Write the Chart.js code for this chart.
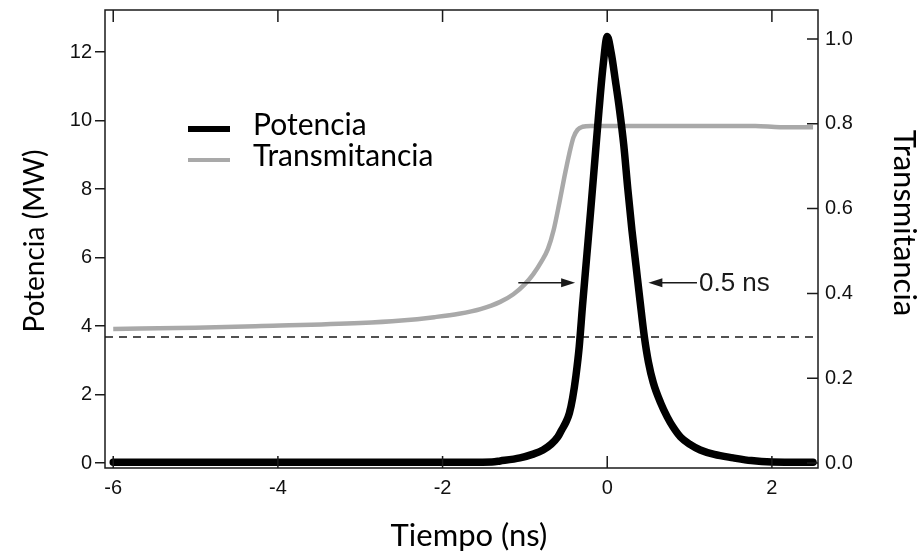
<!DOCTYPE html>
<html>
<head>
<meta charset="utf-8">
<script src="https://cdn.jsdelivr.net/npm/chart.js@4.4.1/dist/chart.umd.min.js"></script>
<style>
  html, body { margin: 0; padding: 0; background: #fff; }
  canvas { display: block; }
</style>
</head>
<body>
<canvas id="chart" width="919" height="554"></canvas>
<script>
// Pulse power (MW) against time (ns)
const pulseTime  = [-6.0, -4.0, -2.0, -1.4, -1.3, -1.06, -0.9, -0.78, -0.68, -0.6, -0.55, -0.50, -0.46, -0.42, -0.38, -0.34, -0.30, -0.25, -0.20, -0.15, -0.10, -0.05, 0, 0.05, 0.10, 0.15, 0.20, 0.25, 0.30, 0.35, 0.40, 0.45, 0.50, 0.56, 0.65, 0.73, 0.80, 0.89, 1.0, 1.13, 1.3, 1.53, 1.75, 2.0, 2.5];
const pulsePower = [0.02, 0.02, 0.02, 0.03, 0.06, 0.15, 0.26, 0.38, 0.55, 0.76, 0.98, 1.2, 1.45, 1.9, 2.55, 3.4, 4.6, 6.0, 7.4, 8.85, 10.3, 11.6, 12.45, 11.95, 11.15, 10.3, 9.3, 8.0, 6.8, 5.75, 4.7, 3.7, 2.95, 2.34, 1.75, 1.34, 1.05, 0.76, 0.55, 0.38, 0.25, 0.15, 0.07, 0.03, 0.02];

// Transmittance against time (ns)
const transTime  = [-6.0, -5.0, -4.2, -3.0, -2.5, -2.1, -1.8, -1.54, -1.3, -1.14, -1.0, -0.9, -0.8, -0.72, -0.65, -0.58, -0.52, -0.46, -0.41, -0.36, -0.30, -0.2, 0.5, 1.8, 2.1, 2.5];
const transValue = [0.316, 0.319, 0.323, 0.330, 0.336, 0.344, 0.352, 0.363, 0.380, 0.398, 0.422, 0.445, 0.475, 0.505, 0.55, 0.615, 0.675, 0.73, 0.768, 0.786, 0.793, 0.795, 0.795, 0.795, 0.792, 0.792];

// dashed reference level (MW)
const thresholdPower = 3.68;

const timeTicks  = [-6, -4, -2, 0, 2];
const powerTicks = [0, 2, 4, 6, 8, 10, 12];
const transTicks = [0, 0.2, 0.4, 0.6, 0.8, 1.0];

const timeRange  = [-6.1, 2.56];
const powerRange = [-0.146, 13.226];
const transRange = [-0.0118, 1.0684];

// FWHM arrows, in data units (time from -> to, at power level)
const fwhmLevel = 5.26;
const fwhmLeft  = [-1.08, -0.39];
const fwhmRight = [1.09, 0.50];
const fwhmLabel = '0.5 ns';

const INK = '#1a1a1a';
const GREY = '#a9a9a9';
const TICK_FONT = { family: '"Liberation Sans", Arial, sans-serif', size: 20 };
const TEXT_FONT = 'Lato, "Open Sans", sans-serif';

const toPoints = (xs, ys) => xs.map((v, i) => ({ x: v, y: ys[i] }));

// keep the plot box where the figure has it
const noPad = s => { s.paddingTop = 0; s.paddingBottom = 0; s.paddingLeft = 0; s.paddingRight = 0; };

const decorations = {
    id: 'decorations',
    afterDatasetsDraw(chart) {
        const { ctx, chartArea: a, scales: { x, y, y2 } } = chart;
        ctx.save();

        // frame
        ctx.strokeStyle = INK;
        ctx.lineWidth = 1.5;
        ctx.strokeRect(a.left, a.top, a.right - a.left, a.bottom - a.top);

        // ticks pointing inward (top, bottom and right)
        ctx.beginPath();
        timeTicks.forEach(v => {
            const px = x.getPixelForValue(v);
            ctx.moveTo(px, a.bottom); ctx.lineTo(px, a.bottom - 12);
            ctx.moveTo(px, a.top); ctx.lineTo(px, a.top + 12);
        });
        transTicks.forEach(v => {
            const py = y2.getPixelForValue(v);
            ctx.moveTo(a.right, py); ctx.lineTo(a.right - 11, py);
        });
        ctx.stroke();

        // FWHM arrows
        const arrow = (from, to) => {
            const x0 = x.getPixelForValue(from), x1 = x.getPixelForValue(to);
            const yy = y.getPixelForValue(fwhmLevel);
            const dir = x1 > x0 ? 1 : -1;
            ctx.lineWidth = 1.5;
            ctx.beginPath();
            ctx.moveTo(x0, yy); ctx.lineTo(x1 - dir * 10, yy);
            ctx.stroke();
            ctx.beginPath();
            ctx.moveTo(x1, yy);
            ctx.lineTo(x1 - dir * 14, yy - 4.5);
            ctx.lineTo(x1 - dir * 14, yy + 4.5);
            ctx.closePath();
            ctx.fillStyle = INK;
            ctx.fill();
        };
        arrow(fwhmLeft[0], fwhmLeft[1]);
        arrow(fwhmRight[0], fwhmRight[1]);
        ctx.fillStyle = INK;
        ctx.font = '26px "Liberation Sans", Arial, sans-serif';
        ctx.textAlign = 'left';
        ctx.textBaseline = 'middle';
        ctx.fillText(fwhmLabel, x.getPixelForValue(fwhmRight[0]) + 2, y.getPixelForValue(fwhmLevel) + 1);

        // legend
        const rows = [
            { ds: chart.data.datasets[0], y: 129, w: 6 },
            { ds: chart.data.datasets[1], y: 160, w: 4 }
        ];
        ctx.font = `30px ${TEXT_FONT}`;
        rows.forEach(r => {
            ctx.strokeStyle = r.ds.borderColor;
            ctx.lineWidth = r.w;
            ctx.beginPath();
            ctx.moveTo(188, r.y); ctx.lineTo(230, r.y);
            ctx.stroke();
            ctx.fillStyle = '#000';
            ctx.fillText(r.ds.label, 253, r.y - 4);
        });

        // axis titles
        ctx.fillStyle = '#000';
        ctx.textAlign = 'center';
        ctx.font = `31px ${TEXT_FONT}`;
        ctx.fillText('Tiempo (ns)', 469, 536);
        ctx.save();
        ctx.translate(904, 223);
        ctx.rotate(Math.PI / 2);
        ctx.fillText('Transmitancia', 0, 0);
        ctx.restore();
        ctx.font = `28px ${TEXT_FONT}`;
        ctx.save();
        ctx.translate(35, 241);
        ctx.rotate(-Math.PI / 2);
        ctx.fillText('Potencia (MW)', 0, 0);
        ctx.restore();

        ctx.restore();
    }
};

new Chart(document.getElementById('chart'), {
    type: 'line',
    data: {
        datasets: [
            {
                label: 'Potencia',
                data: toPoints(pulseTime, pulsePower),
                yAxisID: 'y',
                borderColor: '#000',
                borderWidth: 7.5,
                cubicInterpolationMode: 'monotone',
                borderJoinStyle: 'round',
                borderCapStyle: 'round',
                pointRadius: 0
            },
            {
                label: 'Transmitancia',
                data: toPoints(transTime, transValue),
                yAxisID: 'y2',
                borderColor: GREY,
                borderWidth: 4.5,
                cubicInterpolationMode: 'monotone',
                pointRadius: 0
            },
            {
                label: 'umbral',
                data: toPoints(timeRange, [thresholdPower, thresholdPower]),
                yAxisID: 'y',
                borderColor: INK,
                borderWidth: 1.5,
                borderDash: [8, 6],
                pointRadius: 0
            }
        ]
    },
    options: {
        responsive: false,
        animation: false,
        layout: { padding: { top: 10, left: 0, right: 0, bottom: 0 } },
        plugins: { legend: { display: false }, tooltip: { enabled: false } },
        scales: {
            x: {
                type: 'linear',
                position: 'bottom',
                min: timeRange[0],
                max: timeRange[1],
                afterBuildTicks: s => { s.ticks = timeTicks.map(v => ({ value: v })); },
                afterFit: s => { s.height = 86; noPad(s); },
                grid: { display: false, drawTicks: false },
                border: { display: false },
                ticks: { padding: 8, color: '#111', font: TICK_FONT, maxRotation: 0 }
            },
            y: {
                type: 'linear',
                position: 'left',
                min: powerRange[0],
                max: powerRange[1],
                afterBuildTicks: s => { s.ticks = powerTicks.map(v => ({ value: v })); },
                afterFit: s => { s.width = 105; noPad(s); },
                grid: { drawOnChartArea: false, drawTicks: true, tickLength: 10, color: INK, lineWidth: 1.5 },
                border: { display: false },
                ticks: { padding: 3, color: '#111', font: TICK_FONT }
            },
            y2: {
                type: 'linear',
                position: 'right',
                min: transRange[0],
                max: transRange[1],
                afterBuildTicks: s => { s.ticks = transTicks.map(v => ({ value: v })); },
                afterFit: s => { s.width = 101; noPad(s); },
                grid: { display: false, drawTicks: false },
                border: { display: false },
                ticks: { padding: 7, color: '#111', font: TICK_FONT, callback: v => v.toFixed(1) }
            }
        }
    },
    plugins: [decorations]
});
</script>
</body>
</html>
